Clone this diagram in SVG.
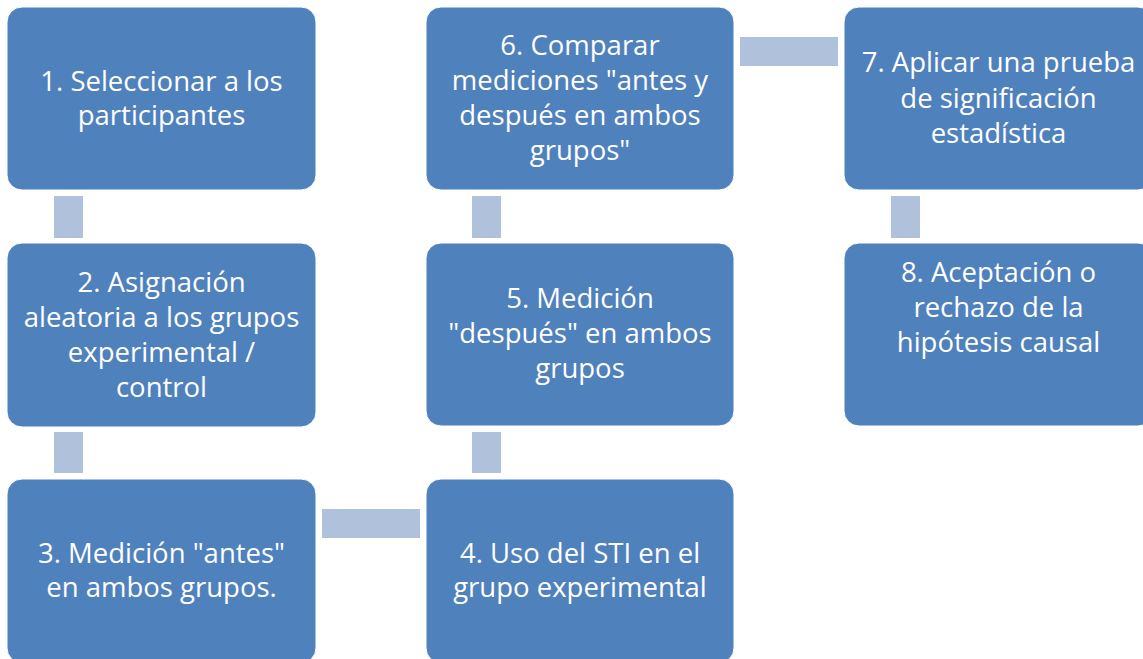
<svg xmlns="http://www.w3.org/2000/svg" width="1143" height="659" viewBox="0 0 1143 659">
<style>
.node{fill:#4F81BD;stroke:#FFFFFF;stroke-width:1}
.conn{fill:#B0C1DC}
.t{font-family:"Open Sans","Liberation Sans",sans-serif;font-size:27.5px;fill:#FFFFFF;text-anchor:middle}
</style>
<rect x="0" y="0" width="1143" height="659" fill="#FFFFFF"/>
<g id="connectors">
<rect class="conn" x="54" y="196" width="29" height="42"/>
<rect class="conn" x="54" y="432" width="29" height="41"/>
<rect class="conn" x="322" y="509" width="98" height="29"/>
<rect class="conn" x="472" y="432" width="29" height="41"/>
<rect class="conn" x="472" y="196" width="29" height="42"/>
<rect class="conn" x="740" y="37" width="98" height="29"/>
<rect class="conn" x="891" y="196" width="29" height="42"/>
</g>
<g id="node1">
<rect class="node" x="7" y="7" width="309" height="183" rx="15"/>
<text class="t" x="161.5" y="91">1. Seleccionar a los</text>
<text class="t" x="161.5" y="125">participantes</text>
</g>
<g id="node2">
<rect class="node" x="7" y="243" width="309" height="184" rx="15"/>
<text class="t" x="161.5" y="292">2. Asignación</text>
<text class="t" x="161.5" y="327">aleatoria a los grupos</text>
<text class="t" x="161.5" y="362">experimental /</text>
<text class="t" x="161.5" y="397">control</text>
</g>
<g id="node3">
<rect class="node" x="7" y="479" width="309" height="184" rx="15"/>
<text class="t" x="161.5" y="563">3. Medición "antes"</text>
<text class="t" x="161.5" y="597">en ambos grupos.</text>
</g>
<g id="node4">
<rect class="node" x="426" y="479" width="308" height="184" rx="15"/>
<text class="t" x="580" y="563">4. Uso del STI en el</text>
<text class="t" x="580" y="597">grupo experimental</text>
</g>
<g id="node5">
<rect class="node" x="426" y="243" width="308" height="183" rx="15"/>
<text class="t" x="580" y="308">5. Medición</text>
<text class="t" x="580" y="343">"después" en ambos</text>
<text class="t" x="580" y="378">grupos</text>
</g>
<g id="node6">
<rect class="node" x="426" y="7" width="308" height="183" rx="15"/>
<text class="t" x="580" y="55">6. Comparar</text>
<text class="t" x="580" y="90">mediciones "antes y</text>
<text class="t" x="580" y="125">después en ambos</text>
<text class="t" x="580" y="160">grupos"</text>
</g>
<g id="node7">
<rect class="node" x="844" y="7" width="309" height="183" rx="15"/>
<text class="t" x="998.5" y="72">7. Aplicar una prueba</text>
<text class="t" x="998.5" y="108">de significación</text>
<text class="t" x="998.5" y="143">estadística</text>
</g>
<g id="node8">
<rect class="node" x="844" y="243" width="309" height="183" rx="15"/>
<text class="t" x="998.5" y="282">8. Aceptación o</text>
<text class="t" x="998.5" y="317">rechazo de la</text>
<text class="t" x="998.5" y="352">hipótesis causal</text>
</g>
</svg>
